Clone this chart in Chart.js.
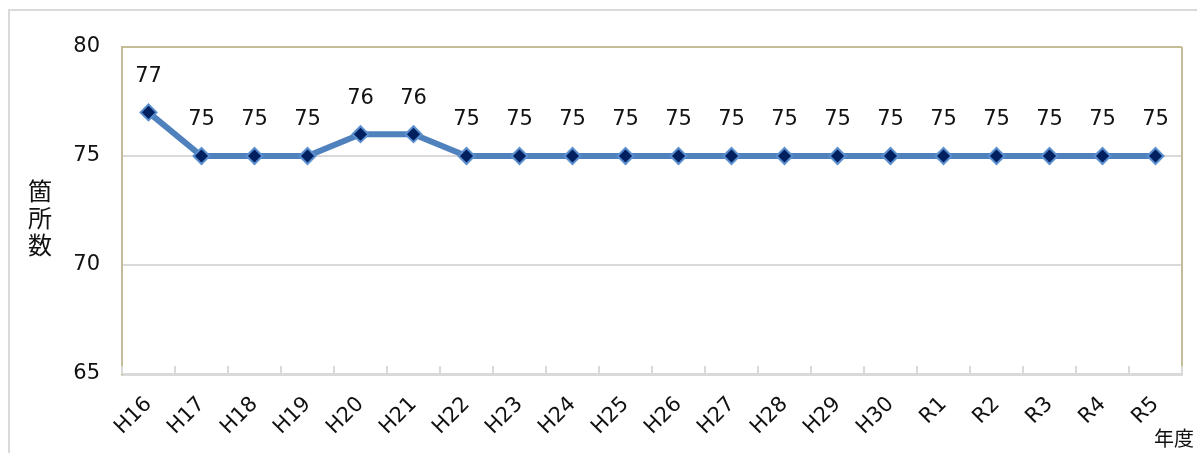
<!DOCTYPE html>
<html>
<head>
<meta charset="utf-8">
<script src="https://cdn.jsdelivr.net/npm/chart.js@4"></script>
<style>
  html, body { margin: 0; padding: 0; background: #fff; }
  #wrap { position: relative; width: 1197px; height: 453px; overflow: hidden; }
  #frame { position: absolute; left: 8px; top: 9px; width: 1300px; height: 600px;
           border: 2px solid #d9d9d9; box-sizing: border-box; }
  canvas { position: absolute; left: 0; top: 0; }
</style>
</head>
<body>
<div id="wrap">
  <div id="frame"></div>
  <canvas id="chart" width="1197" height="453"></canvas>
</div>
<script>
// data
const years = ["H16", "H17", "H18", "H19", "H20", "H21", "H22", "H23", "H24", "H25",
  "H26", "H27", "H28", "H29", "H30", "R1", "R2", "R3", "R4", "R5"];
const counts = [77, 75, 75, 75, 76, 76, 75, 75, 75, 75, 75, 75, 75, 75, 75, 75, 75, 75, 75, 75];
const yTitle = ["箇", "所", "数"];
const xTitle = "年度";

const FONT = "'DejaVu Sans', Verdana, sans-serif";
const CJK = "'Noto Sans CJK JP', sans-serif";

// value labels above each point, plot frame, inward tick marks and axis titles
const extras = {
  id: "extras",
  beforeDatasetsDraw(chart) {
    const { ctx, chartArea: a, scales } = chart;
    ctx.save();
    // right border of the plot
    ctx.strokeStyle = "#c4bd97";
    ctx.lineWidth = 2;
    ctx.beginPath();
    ctx.moveTo(a.right, a.top);
    ctx.lineTo(a.right, a.bottom);
    ctx.stroke();
    // inward tick marks on the category axis
    const x = scales.x;
    const step = x.getPixelForValue(1) - x.getPixelForValue(0);
    ctx.strokeStyle = "#d9d9d9";
    for (let i = 0; i <= years.length; i++) {
      const px = Math.round(x.getPixelForValue(i) - step / 2);
      ctx.beginPath();
      ctx.moveTo(px, a.bottom);
      ctx.lineTo(px, a.bottom - 8);
      ctx.stroke();
    }
    ctx.restore();
  },
  afterDatasetsDraw(chart) {
    const { ctx } = chart;
    const meta = chart.getDatasetMeta(0);
    ctx.save();
    ctx.fillStyle = "#111";
    ctx.font = "21px " + FONT;
    ctx.textAlign = "center";
    ctx.textBaseline = "middle";
    meta.data.forEach((p, i) => {
      ctx.fillText(String(counts[i]), p.x, p.y - 36);
    });
    // axis titles
    ctx.font = "24px " + CJK;
    yTitle.forEach((ch, i) => ctx.fillText(ch, 40, 191 + i * 27));
    ctx.font = "20px " + CJK;
    ctx.textAlign = "right";
    ctx.fillText(xTitle, 1194, 438);
    ctx.restore();
  }
};

new Chart(document.getElementById("chart"), {
  type: "line",
  data: {
    labels: years,
    datasets: [{
      data: counts,
      borderColor: "#4f81bd",
      borderWidth: 6,
      tension: 0,
      pointStyle: "rectRot",
      pointRadius: 8,
      pointHoverRadius: 8,
      pointBackgroundColor: "#002060",
      pointBorderColor: "#5b8fd0",
      pointBorderWidth: 2
    }]
  },
  options: {
    responsive: false,
    animation: false,
    events: [],
    layout: { padding: { left: 0, top: 47, right: 15, bottom: 0 } },
    plugins: { legend: { display: false }, tooltip: { enabled: false } },
    scales: {
      x: {
        offset: true,
        grid: { offset: true, drawOnChartArea: false, drawTicks: false },
        border: { color: "#d9d9d9", width: 3 },
        ticks: {
          color: "#111",
          font: { family: FONT, size: 21 },
          minRotation: 45,
          maxRotation: 45,
          autoSkip: false,
          padding: 18
        },
        afterFit(s) { s.height = 79; }
      },
      y: {
        min: 65,
        max: 80,
        grid: {
          drawTicks: false,
          color: (c) => c.tick && c.tick.value === 80 ? "#c4bd97" : "#d9d9d9",
          lineWidth: 2
        },
        border: { color: "#c4bd97", width: 2 },
        ticks: {
          stepSize: 5,
          color: "#111",
          font: { family: FONT, size: 21 },
          padding: 22
        },
        afterFit(s) { s.width = 122; }
      }
    }
  },
  plugins: [extras]
});
</script>
</body>
</html>
